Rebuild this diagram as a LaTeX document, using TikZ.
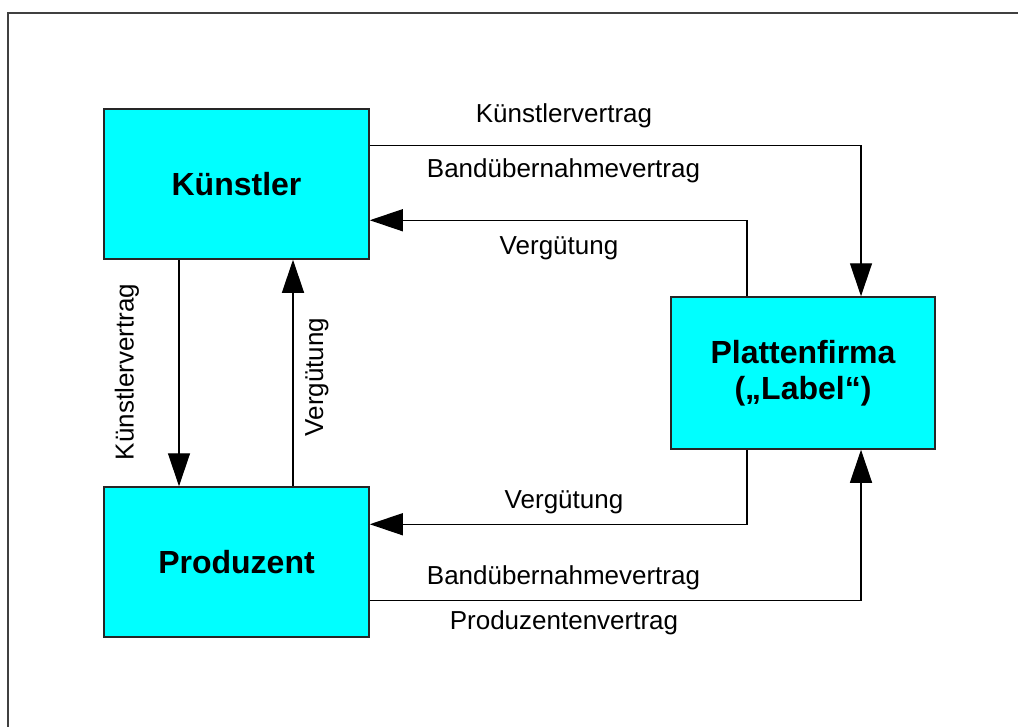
\documentclass[tikz,border=0pt]{standalone}
\usepackage{fontspec}
\setmainfont{Liberation Sans}
\usetikzlibrary{arrows.meta}
\definecolor{boxcyan}{RGB}{0,255,255}
\definecolor{framegray}{RGB}{64,64,64}
\begin{document}
\begin{tikzpicture}[x=1pt,y=-1pt,
  boxnode/.style={draw=black!85, line width=1.5pt, fill=boxcyan, inner sep=0pt, align=center,
    font=\fontsize{32}{36}\selectfont\bfseries},
  conn/.style={draw=black, line width=1.3pt, -{Triangle[width=22pt,length=33pt]}},
  lbl/.style={anchor=base, inner sep=0pt, font=\fontsize{26}{30}\selectfont},
  vlbl/.style={rotate=90, inner sep=0pt, font=\fontsize{26}{30}\selectfont}]
\useasboundingbox (0,0) rectangle (1018,726);
\fill[white] (0,0) rectangle (1018,726);
\draw[framegray, line width=2pt] (1040,13) -- (8,13) -- (8,740);
\node[boxnode, minimum width=265pt, minimum height=150pt] (K) at (236.5,184) {Künstler};
\node[boxnode, minimum width=265pt, minimum height=150pt] (R) at (236.5,562) {Produzent};
\node[boxnode, minimum width=264pt, minimum height=152pt] (P) at (803,373) {Plattenfirma\\(„Label“)};
\draw[conn] ([yshift=-37pt]K.north east) -| ([xshift=58pt]P.north);
\draw[conn] ([xshift=-56pt]P.north) |- ([yshift=-112pt]K.north east);
\draw[conn] ([xshift=-56pt]P.south) |- ([yshift=-38pt]R.north east);
\draw[conn] ([yshift=37pt]R.south east) -| ([xshift=58pt]P.south);
\draw[conn] ([xshift=-57.5pt]K.south) -- ([xshift=-57.5pt]R.north);
\draw[conn] ([xshift=56.5pt]R.north) -- ([xshift=56.5pt]K.south);
\node[lbl] (l1) at (564,122) {Künstlervertrag};
\node[lbl] (l2) at (563.5,177) {Bandübernahmevertrag};
\node[lbl] (l3) at (559,254) {Vergütung};
\node[lbl] (l4) at (564,508) {Vergütung};
\node[lbl] (l5) at (563.5,584) {Bandübernahmevertrag};
\node[lbl] (l6) at (564,629) {Produzentenvertrag};
\node[vlbl] (v1) at (127,372) {Künstlervertrag};
\node[vlbl] (v2) at (317,377) {Vergütung};
\end{tikzpicture}
\end{document}
